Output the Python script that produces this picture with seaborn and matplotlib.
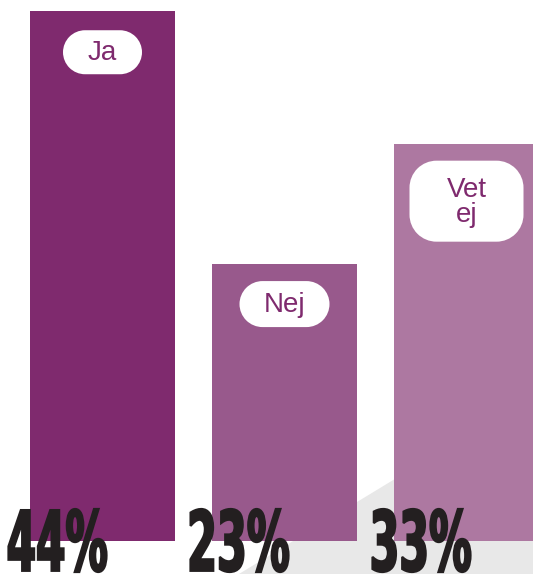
import matplotlib
matplotlib.use("Agg")
import matplotlib.pyplot as plt
import seaborn as sns
import pandas as pd
import numpy as np
from matplotlib.patches import PathPatch, Polygon
from matplotlib.path import Path
from matplotlib.textpath import TextPath
from matplotlib.font_manager import FontProperties
from matplotlib.transforms import Affine2D

# data
answers = ["Ja", "Nej", "Vet\nej"]
shares = [44, 23, 33]
pct_labels = ["44%", "23%", "33%"]
bar_colors = ["#7f2a6e", "#98598c", "#ad78a1"]

df = pd.DataFrame({"answer": answers, "share": shares})


def rounded_rect(x0, y0, w, h, r):
    # true circular corners built from arc segments
    parts = [
        Path.arc(270, 360).transformed(Affine2D().scale(r).translate(x0 + w - r, y0 + r)),
        Path.arc(0, 90).transformed(Affine2D().scale(r).translate(x0 + w - r, y0 + h - r)),
        Path.arc(90, 180).transformed(Affine2D().scale(r).translate(x0 + r, y0 + h - r)),
        Path.arc(180, 270).transformed(Affine2D().scale(r).translate(x0 + r, y0 + r)),
    ]
    verts, codes = [], []
    for k, p in enumerate(parts):
        c = p.codes.copy()
        if k > 0:
            c[0] = Path.LINETO
        verts.append(p.vertices)
        codes.append(c)
    verts.append([[x0 + w - r, y0]])
    codes.append([Path.CLOSEPOLY])
    return Path(np.concatenate(verts), np.concatenate(codes))


W, H = 533, 574
fig = plt.figure(figsize=(W / 100, H / 100), dpi=100)
ax = fig.add_axes([0, 0, 1, 1])
sns.set_style("white")

# grey background wedge (axes fraction)
ax.add_patch(Polygon([(239 / W, 0), (1, 0), (1, 1 - 395 / H), (357 / W, 1 - 502 / H)],
                     closed=True, transform=ax.transAxes, fc="#e8e8e8", ec="none", zorder=0))

sns.barplot(data=df, x="answer", y="share", hue="answer", palette=bar_colors,
            width=0.8, saturation=1, legend=False, linewidth=0, ax=ax, zorder=2)

# scale: pixels per data unit
px_x = 182.0
px_y = 12.04
ax.set_xlim(-102.5 / px_x, (W - 102.5) / px_x)
ax.set_ylim(-(H - 541) / px_y, 541 / px_y)
ax.axis("off")

# white rounded label boxes (sized in pixels, anchored at bar top centre)
box_w = [79, 90, 114]
box_h = [44, 46, 81]
box_top = [19, 17, 17]
box_r = [22, 23, 27]
for i, (lab, val) in enumerate(zip(answers, shares)):
    w, h = box_w[i], box_h[i]
    x0, y0 = ax.transData.transform((i, val))
    pix = Affine2D().translate(x0, y0)
    ax.add_patch(PathPatch(rounded_rect(-w / 2, -box_top[i] - h, w, h, box_r[i]),
                           transform=pix, fc="white", ec="none", zorder=3))
    ax.text(0, -box_top[i] - h / 2 - 1, lab, transform=pix, ha="center", va="center",
            fontsize=20, family="Liberation Sans", color="#7f2a6e",
            linespacing=0.95, zorder=4)

# big condensed percentages
fp = FontProperties(family=["Liberation Sans Narrow", "DejaVu Sans"], weight="bold")
txt_w = 98 / px_x
txt_h = 63 / px_y
txt_bottom = -(572 - 541) / px_y
for i, s in enumerate(pct_labels):
    tp = TextPath((0, 0), s, size=1, prop=fp)
    ext = tp.get_extents()
    tr = (Affine2D().translate(-ext.x0, -ext.y0)
          .scale(txt_w / ext.width, txt_h / ext.height)
          .translate(i - 94 / px_x, txt_bottom))
    ax.add_patch(PathPatch(tr.transform_path(tp), fc="#231f20", ec="#231f20",
                           lw=1.6, joinstyle="miter", zorder=5))

fig.savefig("out.png", dpi=100)
plt.close()
